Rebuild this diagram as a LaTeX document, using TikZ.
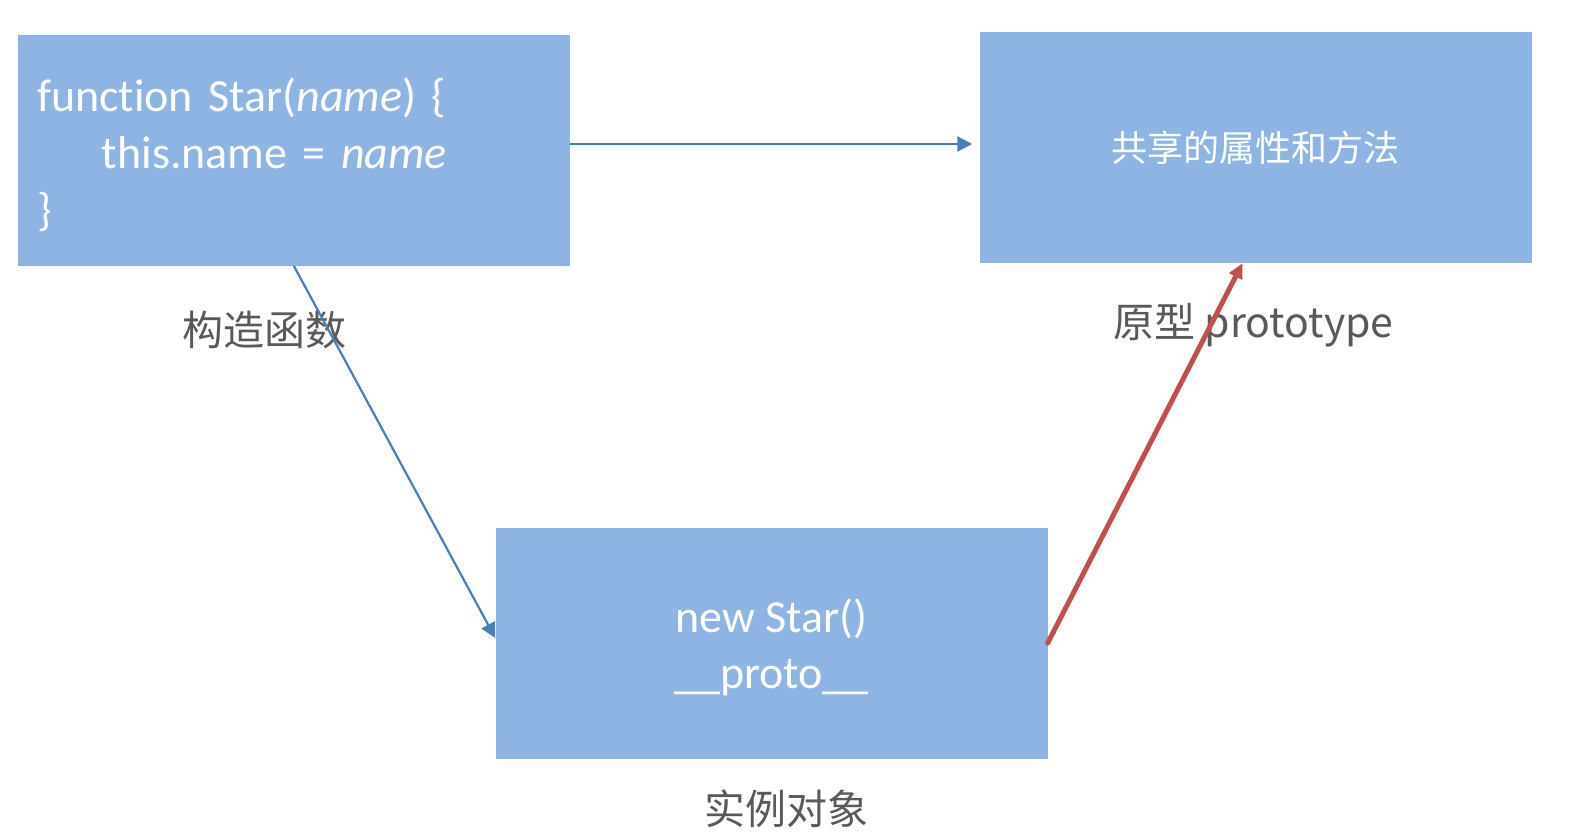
\documentclass[tikz,border=0pt]{standalone}
\usepackage{fontspec}
\setmainfont{Carlito}[Ligatures=NoCommon]
\newfontfamily\cjk{Noto Sans CJK SC}
\usetikzlibrary{arrows.meta}
\definecolor{boxblue}{HTML}{8EB4E3}
\definecolor{linkblue}{HTML}{4A7EBB}
\definecolor{linkred}{HTML}{C0504D}
\definecolor{labelgray}{HTML}{595959}

\begin{document}
\begin{tikzpicture}[line cap=round,line join=round,x=1pt,y=-1pt,
		objbox/.style={fill=boxblue,text=white,minimum width=552pt,minimum height=231pt,inner sep=0pt},
		caption/.style={text=labelgray,font=\cjk\fontsize{41}{48}\selectfont,inner sep=0pt},
		link/.style={draw=linkblue,line width=2.2pt,-{Triangle[length=15pt,width=15pt]}},
		protolink/.style={draw=linkred,line width=5pt,-{Triangle[length=15pt,width=14pt]}}]
		\useasboundingbox (0,0) rectangle (1575,832);

		% Konstruktor
		\node[objbox,text width=514pt,inner xsep=19pt,align=left,font=\fontsize{46}{57}\selectfont] (ctor) at (294,150.5)
			{\rule{0pt}{42pt}function Star(\textit{name}) \{\\ \hspace*{65pt}this.name = \textit{name}\\ \}};
		\node[caption] (ctorlabel) at (264,330) {构造函数};

		% Prototyp
		\node[objbox,font=\cjk\fontsize{36}{44}\selectfont] (proto) at (1255.5,147.5) {共享的属性和方法};
		\node[caption] (protolabel) at (1253.5,325.5) {原型 prototype};

		% Instanz
		\node[objbox,align=center,font=\fontsize{46}{56}\selectfont] (inst) at (771.5,643) {\rule{0pt}{42pt}new Star()\\ \_\_proto\_\_};
		\node[caption] (instlabel) at (786.5,808.5) {实例对象};

		% Pfeile
		\coordinate (ctorout) at ([yshift=6.5pt]ctor.east);
		\draw[link] (ctorout) -- ([xshift=-7pt]proto.west |- ctorout);
		\draw[link] (ctor.south) -- ([yshift=5pt]inst.west);
		\draw[protolink] (inst.east) -- ([xshift=-13pt]proto.south);
	\end{tikzpicture}
\end{document}
